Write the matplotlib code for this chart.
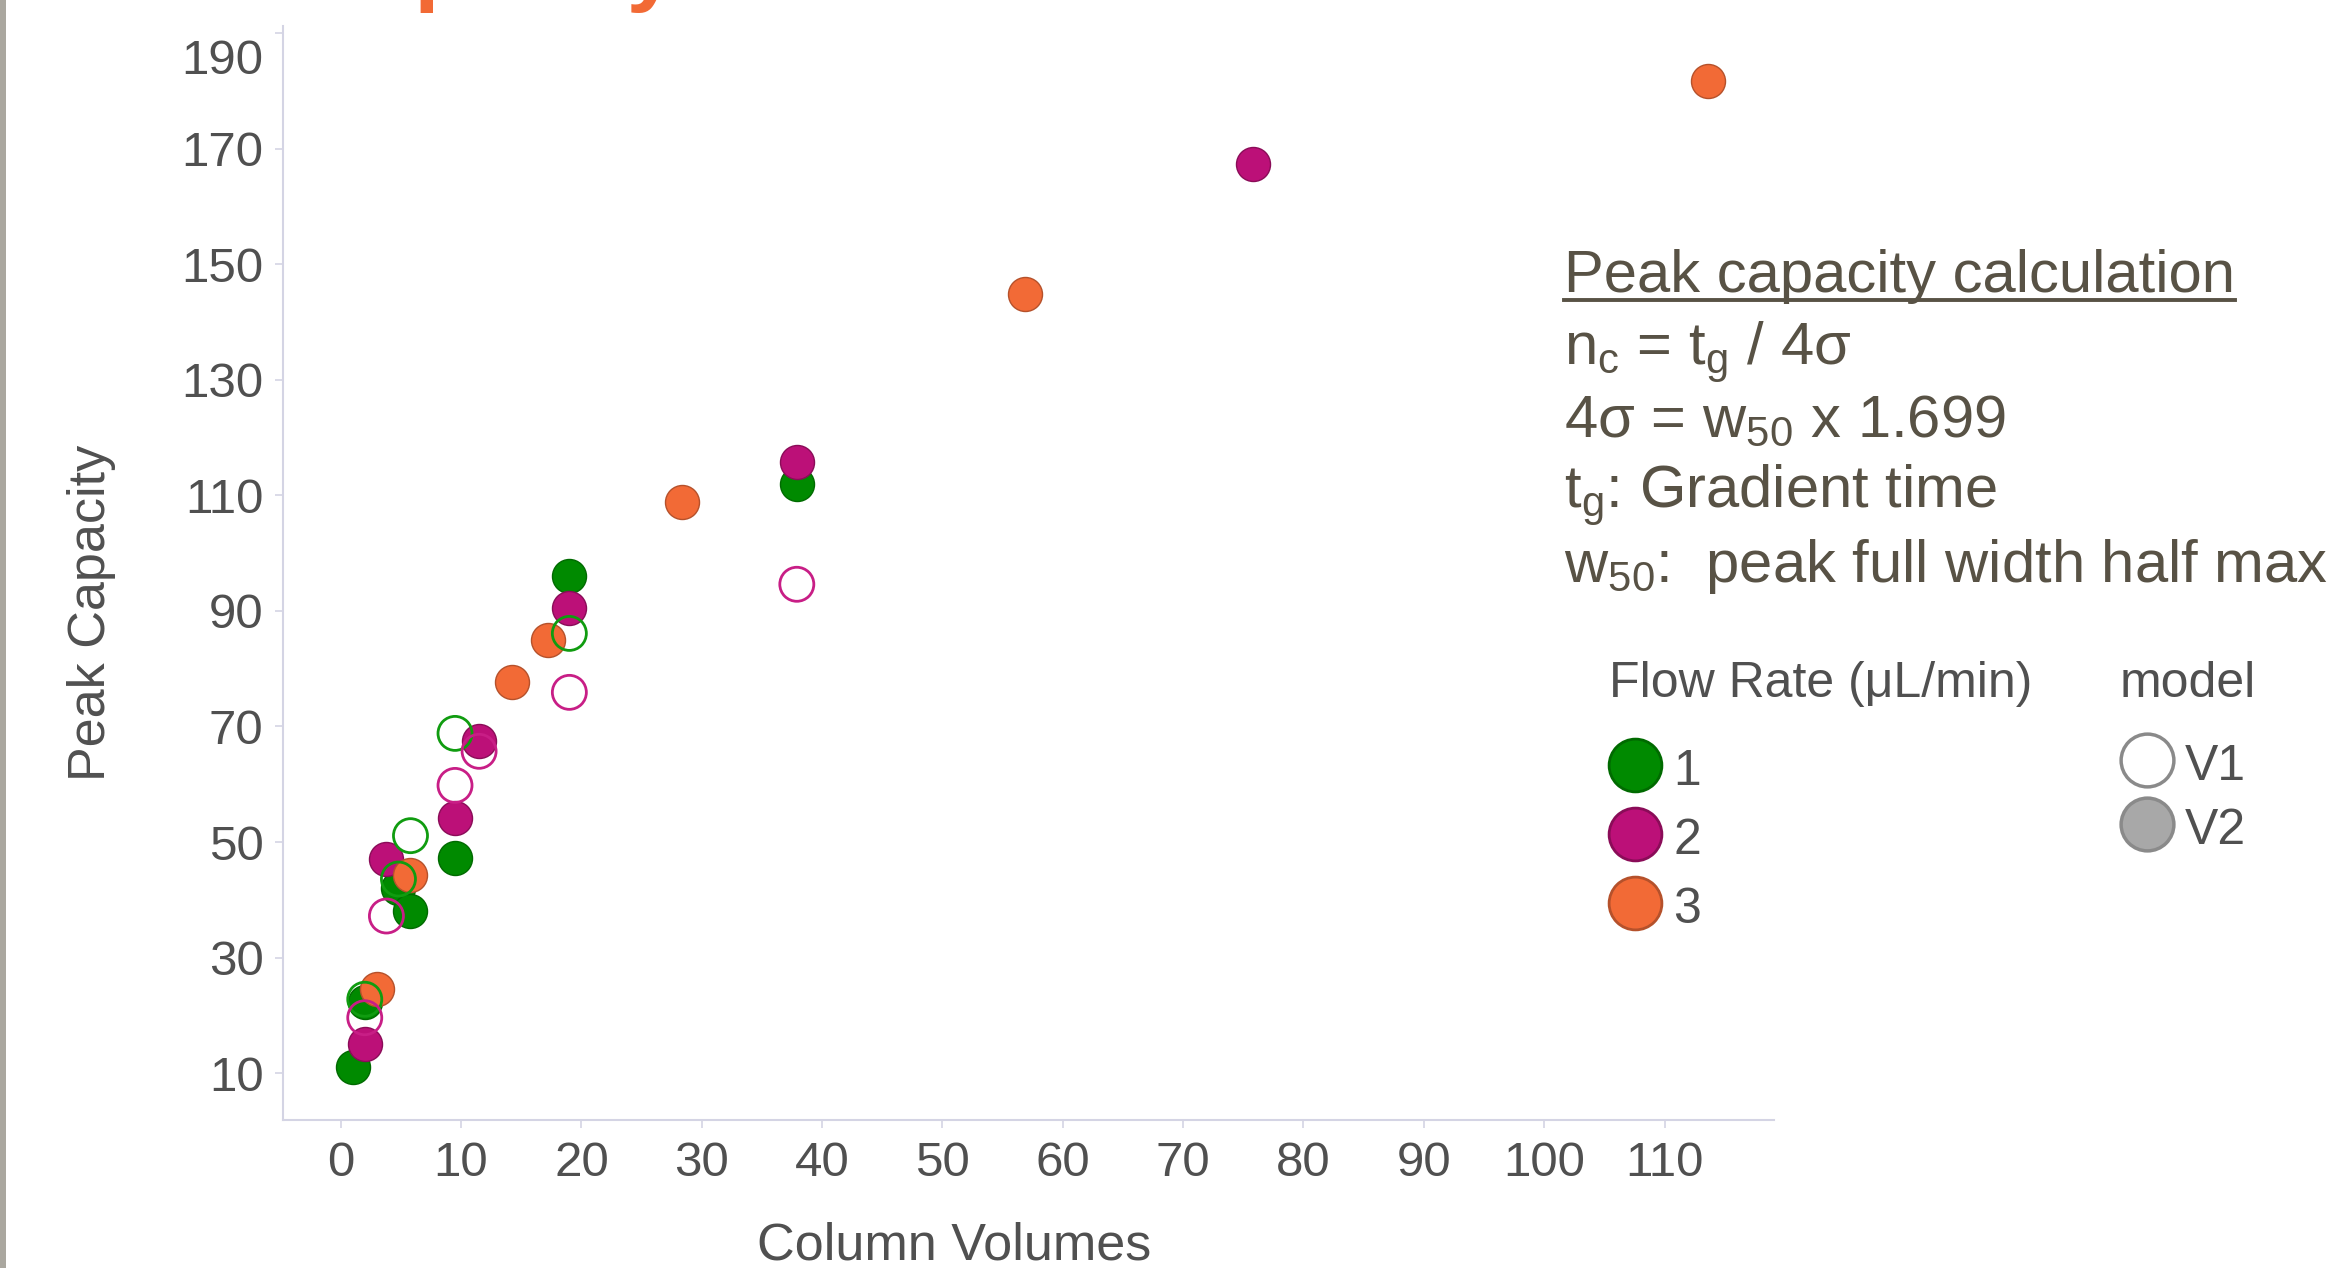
import matplotlib
matplotlib.use('Agg')
import matplotlib.pyplot as plt
from matplotlib.lines import Line2D
from matplotlib.patches import Rectangle
from matplotlib.transforms import ScaledTranslation

plt.rcParams['font.family'] = ['Liberation Sans', 'DejaVu Sans']
plt.rcParams['mathtext.fontset'] = 'custom'
plt.rcParams['mathtext.rm'] = 'Liberation Sans'
plt.rcParams['mathtext.it'] = 'Liberation Sans'
plt.rcParams['mathtext.default'] = 'regular'

# column volumes / peak capacity, flow rate 1 uL/min
cv_f1_v2 = [1.0, 2.0, 4.8, 5.8, 9.5, 19.0, 37.9]
pc_f1_v2 = [11.0, 22.3, 42.1, 38.1, 47.3, 96.0, 111.9]
cv_f1_v1 = [2.0, 4.8, 5.8, 9.5, 19.0]
pc_f1_v1 = [22.8, 43.6, 51.1, 68.8, 86.1]

# flow rate 2 uL/min
cv_f2_v2 = [2.0, 3.8, 9.5, 11.5, 19.0, 37.9, 75.8]
pc_f2_v2 = [15.1, 47.0, 54.1, 67.5, 90.5, 115.7, 167.4]
cv_f2_v1 = [2.0, 3.8, 9.5, 11.5, 19.0, 37.9]
pc_f2_v1 = [19.6, 37.2, 59.8, 65.7, 75.9, 94.6]

# flow rate 3 uL/min (only V2)
cv_f3_v2 = [3.0, 5.8, 14.2, 17.2, 28.4, 56.9, 113.6]
pc_f3_v2 = [24.5, 44.3, 77.7, 85.0, 108.8, 144.9, 181.6]

flow_labels = ['1', '2', '3']
model_labels = ['V1', 'V2']
x_ticks = list(range(0, 111, 10))
y_ticks = list(range(10, 191, 20))

GREEN, MAGENTA, ORANGE = '#008a00', '#bc1078', '#f26a36'
GREEN_E, MAGENTA_E, ORANGE_E = '#006a00', '#8a0c58', '#b5512b'
TXT = '#505050'
NOTE = '#585245'
AXC = '#d4d4e4'

fig = plt.figure(figsize=(23.42, 12.68), dpi=100)
fig.patches.append(Rectangle((0, 0), 6 / 2342, 1, transform=fig.transFigure,
                             facecolor='#aaa79f', edgecolor='none'))

ax = fig.add_axes([0.1208, 0.1167, 0.6367, 0.8628])

S = 600
# filled = model V2
ax.scatter(cv_f1_v2, pc_f1_v2, s=S, c=GREEN, edgecolors=GREEN_E, linewidths=1, zorder=3)
ax.scatter(cv_f2_v2, pc_f2_v2, s=S, c=MAGENTA, edgecolors=MAGENTA_E, linewidths=1, zorder=3)
ax.scatter(cv_f3_v2, pc_f3_v2, s=S, c=ORANGE, edgecolors=ORANGE_E, linewidths=1, zorder=3)
# hollow = model V1
ax.scatter(cv_f1_v1, pc_f1_v1, s=S, facecolors='none', edgecolors='#109c10', linewidths=2, zorder=4)
ax.scatter(cv_f2_v1, pc_f2_v1, s=S, facecolors='none', edgecolors='#c81e86', linewidths=2, zorder=4)

ax.set_xlim(-4.8, 119.1)
ax.set_ylim(1.9, 191.2)
ax.set_xticks(x_ticks)
ax.set_yticks(y_ticks)
for s in ['top', 'right']:
    ax.spines[s].set_visible(False)
for s in ['left', 'bottom']:
    ax.spines[s].set_color(AXC)
    ax.spines[s].set_linewidth(1.5)
ax.tick_params(axis='both', colors=AXC, labelcolor=TXT, labelsize=35.5,
               length=6, width=1.2)
ax.tick_params(axis='y', pad=8)
ax.tick_params(axis='x', pad=9)

# top label sits a little lower
top_lbl = ax.get_yticklabels()[-1]
top_lbl.set_transform(top_lbl.get_transform() +
                      ScaledTranslation(0, -0.24, fig.dpi_scale_trans))

fig.text(954 / 2342, 1 - 1246 / 1268, 'Column Volumes', fontsize=37.5,
         color=TXT, ha='center', va='center')
fig.text(92 / 2342, 1 - 613 / 1268, 'Peak Capacity', fontsize=37.5,
         color=TXT, ha='center', va='center', rotation=90)

# heading, mostly above the canvas
fig.text(60 / 2342, 1 + 6 / 1268, 'Peak Capacity', fontsize=65.5,
         fontweight='bold', color='#f26a35', ha='left', va='baseline')

# calculation notes
note_x = 1564 / 2342
notes = ['Peak capacity calculation',
         r'n$_c$ = t$_g$ / 4σ',
         r'4σ = w$_{50}$ x 1.699',
         r't$_g$: Gradient time',
         r'w$_{50}$:  peak full width half max']
note_base = [292, 365, 437, 508, 582]
note_txt = []
for t, yb in zip(notes, note_base):
    note_txt.append(fig.text(note_x, 1 - yb / 1268, t, fontsize=43,
                             color=NOTE, ha='left', va='baseline'))

fig.canvas.draw()
bb = note_txt[0].get_window_extent(fig.canvas.get_renderer())
x0 = bb.x0 / fig.bbox.width
x1 = bb.x1 / fig.bbox.width
yl = 1 - 300 / 1268
fig.add_artist(Line2D([x0, x1], [yl, yl], transform=fig.transFigure,
                      color=NOTE, linewidth=2.8))

# legends
fig.text(1609 / 2342, 1 - 697 / 1268, 'Flow Rate (μL/min)', fontsize=36,
         color=TXT, ha='left', va='baseline')
fig.text(2120 / 2342, 1 - 697 / 1268, 'model', fontsize=36,
         color=TXT, ha='left', va='baseline')

flow_handles = [
    Line2D([], [], ls='', marker='o', markersize=38, markerfacecolor=fc,
           markeredgecolor=ec, markeredgewidth=2)
    for fc, ec in [(GREEN, GREEN_E), (MAGENTA, MAGENTA_E), (ORANGE, ORANGE_E)]
]
model_handles = [
    Line2D([], [], ls='', marker='o', markersize=38, markerfacecolor='white',
           markeredgecolor='#8a8a8a', markeredgewidth=2.5),
    Line2D([], [], ls='', marker='o', markersize=38, markerfacecolor='#a8a8a8',
           markeredgecolor='#8a8a8a', markeredgewidth=2.5),
]

leg1 = fig.legend(flow_handles, flow_labels, loc='upper left',
                  bbox_to_anchor=(1607 / 2342, 1 - 744 / 1268),
                  frameon=False, fontsize=36, borderpad=0, borderaxespad=0,
                  handlelength=1.12, handleheight=1.1, handletextpad=0.2,
                  labelspacing=0.36, labelcolor=TXT)
leg2 = fig.legend(model_handles, model_labels, loc='upper left',
                  bbox_to_anchor=(2119 / 2342, 1 - 739 / 1268),
                  frameon=False, fontsize=36, borderpad=0, borderaxespad=0,
                  handlelength=1.12, handleheight=1.1, handletextpad=0.2,
                  labelspacing=0.27, labelcolor=TXT)

fig.savefig('out.png', dpi=100)
